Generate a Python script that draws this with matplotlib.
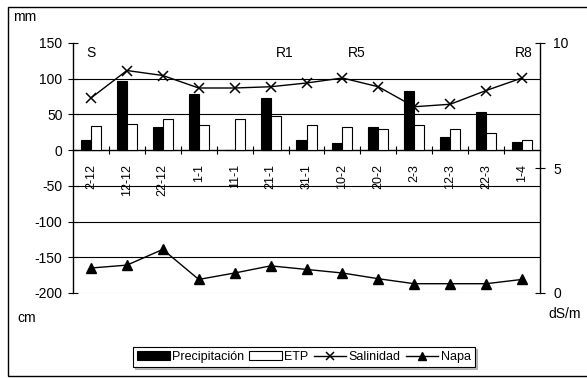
import numpy as np
import matplotlib
matplotlib.use("Agg")
import matplotlib.pyplot as plt
from matplotlib.lines import Line2D
from matplotlib.patches import Rectangle

plt.rcParams["font.family"] = ["Liberation Sans", "DejaVu Sans"]
plt.rcParams["font.size"] = 9
plt.rcParams["axes.unicode_minus"] = False

# data
fechas = ["2-12", "12-12", "22-12", "1-1", "11-1", "21-1", "31-1",
          "10-2", "20-2", "2-3", "12-3", "22-3", "1-4"]
precipitacion = [14, 97, 32, 79, 0, 73, 14, 10, 32, 83, 18, 53, 12]   # mm
etp = [34, 37, 43, 35, 43, 48, 35, 32, 30, 35, 30, 24, 14]            # mm
salinidad = [7.8, 8.9, 8.7, 8.2, 8.2, 8.25, 8.4, 8.6, 8.25, 7.45, 7.55, 8.1, 8.6]  # dS/m
napa = [-165, -161, -139, -181, -172, -162, -167, -172, -180, -187, -187, -187, -181]  # cm
etiquetas = [("S", 0.0), ("R1", 5.4), ("R5", 7.4), ("R8", 12.05)]

W, H = 587, 378
fig = plt.figure(figsize=(W / 100, H / 100), dpi=100)
ax = fig.add_axes([73 / W, 1 - 293 / H, (540 - 73) / W, (293 - 43) / H])
ax2 = ax.twinx()

x = np.arange(len(fechas))
bw = 0.28
b1 = ax.bar(x - bw / 2, precipitacion, bw, color="black", edgecolor="black",
            linewidth=0.8, zorder=3)
b2 = ax.bar(x + bw / 2, etp, bw, color="white", edgecolor="black",
            linewidth=0.8, zorder=3)
ax.plot(x, napa, color="black", lw=1, marker="^", ms=6.5, zorder=4)
ax2.plot(x, salinidad, color="black", lw=1, marker="x", ms=6.5, mew=1.1, zorder=4)

ax.set_xlim(-0.5, len(fechas) - 0.5)
ax.set_ylim(-200, 150)
ax.set_yticks(np.arange(-200, 151, 50))
ax2.set_ylim(0, 10)
ax2.set_yticks([0, 5, 10])

# horizontal grid
ax.yaxis.grid(True, color="black", lw=0.8, zorder=0)
ax.set_axisbelow(True)
for val, gl in zip(ax.get_yticks(), ax.get_ygridlines()):
    if val == -200:
        gl.set_color("#b0b0b0")
    if val in (0, 150):
        gl.set_visible(False)

# x axis at zero, category ticks at boundaries
ax.spines["top"].set_visible(False)
ax2.spines["top"].set_visible(False)
ax2.spines["left"].set_visible(False)
ax2.spines["bottom"].set_visible(False)
ax.spines["right"].set_visible(False)
ax.spines["bottom"].set_position(("data", 0))
ax.spines["bottom"].set_linewidth(1)
ax.spines["left"].set_linewidth(1)
ax2.spines["right"].set_linewidth(1)
ax.set_xticks(x)
ax.set_xticklabels(fechas, rotation=90, fontsize=9)
ax.set_xticks(np.arange(0.5, len(fechas) - 0.5, 1), minor=True)
ax.tick_params(axis="x", which="major", length=0, pad=10)
ax.tick_params(axis="x", which="minor", length=6, direction="inout", width=0.8)
ax.tick_params(axis="y", length=7, width=0.8, direction="inout", pad=4,
               labelsize=10)
ax2.tick_params(axis="y", length=7, width=0.8, direction="inout", pad=6,
                labelsize=10)

for txt, xi in etiquetas:
    ax.text(xi, 136, txt, ha="center", va="center", fontsize=10)

fig.text(13 / W, 1 - 17 / H, "mm", ha="left", va="center", fontsize=10)
fig.text(17 / W, 1 - 318 / H, "cm", ha="left", va="center", fontsize=10)
fig.text(548 / W, 1 - 314 / H, "dS/m", ha="left", va="center", fontsize=10)

handles = [b1, b2,
           Line2D([], [], color="black", lw=1, marker="x", ms=6, mew=1.1),
           Line2D([], [], color="black", lw=1, marker="^", ms=6)]
leg = fig.legend(handles, ["Precipitación", "ETP", "Salinidad", "Napa"],
                 loc="center", bbox_to_anchor=(304 / W, 1 - 357 / H), ncol=4,
                 frameon=True, fancybox=False, edgecolor="black", framealpha=1,
                 handlelength=2.6, handletextpad=0.2, columnspacing=0.4,
                 borderpad=0.35, numpoints=1, fontsize=9,
                 shadow={"color": "#808080", "ox": 1.5, "oy": -1.5})
leg.get_frame().set_linewidth(0.8)

fig.patches.append(Rectangle((8 / W, 1 - 376 / H), 1.0, (376 - 7) / H,
                             transform=fig.transFigure, fill=False,
                             edgecolor="black", lw=1))

fig.savefig("out.png", dpi=100)
